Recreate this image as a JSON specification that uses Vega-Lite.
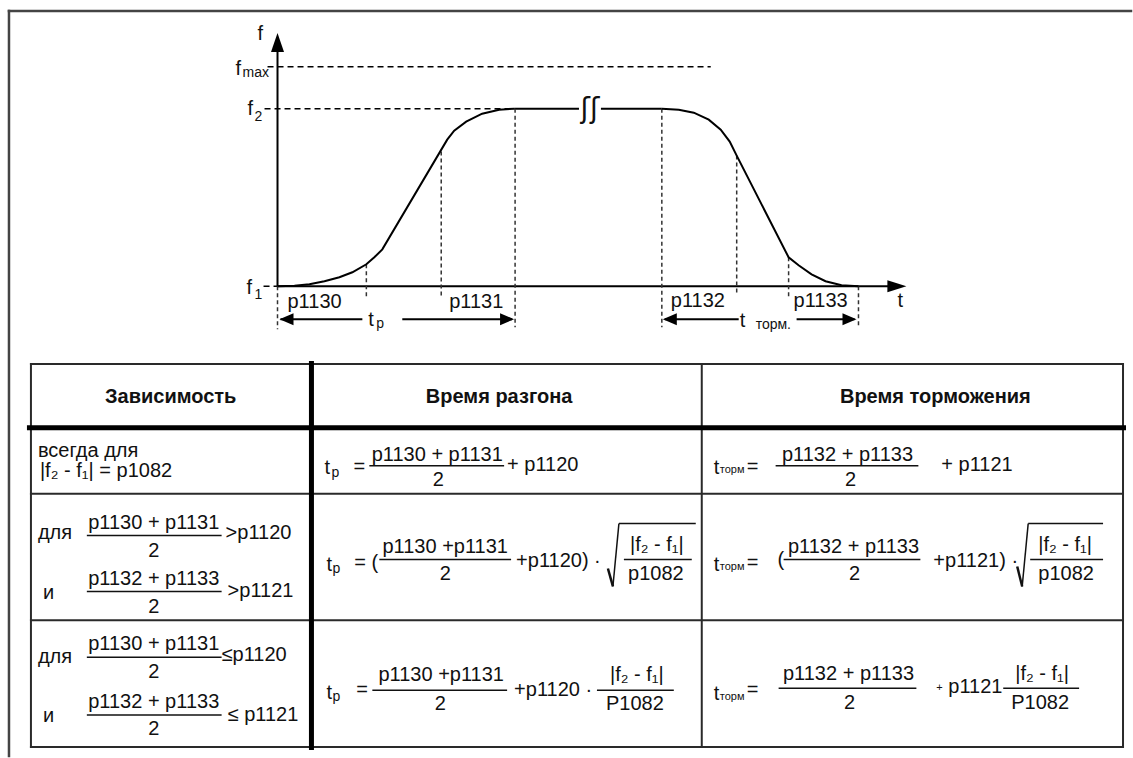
{
"$schema": "https://vega.github.io/schema/vega-lite/v6.json",
"width": 1133, "height": 758, "padding": 0,
"autosize": {"type": "fit", "contains": "padding"},
"background": "white",
"config": {"view": {"stroke": null}},
"datasets": {
"seg": [
{"k":"axis","x":278,"y":40,"x2":278,"y2":287},
{"k":"axis","x":278,"y":287,"x2":892,"y2":287},
{"k":"axis","x":515,"y":109,"x2":580,"y2":109},
{"k":"axis","x":602,"y":109,"x2":663,"y2":109},
{"k":"axis","x":281,"y":320,"x2":363,"y2":320},
{"k":"axis","x":403,"y":320,"x2":513,"y2":320},
{"k":"axis","x":666,"y":320,"x2":740,"y2":320},
{"k":"axis","x":798,"y":320,"x2":856,"y2":320},
{"k":"dashH","x":268,"y":67,"x2":712,"y2":67},
{"k":"dashH","x":265,"y":109,"x2":515,"y2":109},
{"k":"dashH","x":264,"y":287,"x2":278,"y2":287},
{"k":"dashV","x":278,"y":287,"x2":278,"y2":330},
{"k":"dashV","x":367,"y":265,"x2":367,"y2":298},
{"k":"dashV","x":442,"y":152,"x2":442,"y2":298},
{"k":"dashV","x":516,"y":109,"x2":516,"y2":328},
{"k":"dashV","x":663,"y":109,"x2":663,"y2":328},
{"k":"dashV","x":738,"y":156,"x2":738,"y2":296},
{"k":"dashV","x":790,"y":258,"x2":790,"y2":297},
{"k":"dashV","x":860,"y":287,"x2":860,"y2":328},
{"k":"frame","x":9,"y":11,"x2":1133,"y2":11},
{"k":"frame","x":9,"y":11,"x2":9,"y2":758},
{"k":"thin","x":31,"y":365,"x2":1125,"y2":365},
{"k":"thin","x":31,"y":365,"x2":31,"y2":749},
{"k":"thin","x":1125,"y":365,"x2":1125,"y2":749},
{"k":"thin","x":31,"y":749,"x2":1125,"y2":749},
{"k":"thin","x":703,"y":365,"x2":703,"y2":749},
{"k":"thin","x":31,"y":495,"x2":1125,"y2":495},
{"k":"thin","x":31,"y":622,"x2":1125,"y2":622},
{"k":"thick","x":27,"y":429,"x2":1128,"y2":429},
{"k":"thick","x":312,"y":362,"x2":312,"y2":752},
{"k":"frac","x":370,"y":467,"x2":505,"y2":467},
{"k":"frac","x":777,"y":467,"x2":920,"y2":467},
{"k":"frac","x":87,"y":537,"x2":222,"y2":537},
{"k":"frac","x":87,"y":593,"x2":222,"y2":593},
{"k":"frac","x":380,"y":561,"x2":512,"y2":561},
{"k":"frac","x":625,"y":561,"x2":693,"y2":561},
{"k":"frac","x":785,"y":561,"x2":922,"y2":561},
{"k":"frac","x":1032,"y":561,"x2":1105,"y2":561},
{"k":"frac","x":87,"y":659,"x2":222,"y2":659},
{"k":"frac","x":87,"y":717,"x2":222,"y2":717},
{"k":"frac","x":373,"y":692,"x2":508,"y2":692},
{"k":"frac","x":598,"y":692,"x2":675,"y2":692},
{"k":"frac","x":780,"y":690,"x2":918,"y2":690},
{"k":"frac","x":1005,"y":690,"x2":1081,"y2":690},
{"k":"frac","x":614,"y":588,"x2":620,"y2":525},
{"k":"frac","x":620,"y":525,"x2":697,"y2":525},
{"k":"frac","x":1024,"y":588,"x2":1030,"y2":525},
{"k":"frac","x":1030,"y":525,"x2":1105,"y2":525},
{"k":"sqrtA","x":609,"y":570,"x2":614,"y2":588},
{"k":"sqrtA","x":1019,"y":568,"x2":1024,"y2":588}
],
"curve": [
{"s":"a","x":278,"y":287},{"s":"a","x":295,"y":286.5},{"s":"a","x":310,"y":285},{"s":"a","x":325,"y":282},{"s":"a","x":340,"y":278},{"s":"a","x":353,"y":273},{"s":"a","x":367,"y":265},{"s":"a","x":375,"y":258},{"s":"a","x":383,"y":250},{"s":"a","x":448,"y":140},{"s":"a","x":455,"y":131},{"s":"a","x":467,"y":122},{"s":"a","x":483,"y":114},{"s":"a","x":500,"y":110},{"s":"a","x":515,"y":109},
{"s":"d","x":663,"y":109},{"s":"d","x":680,"y":110},{"s":"d","x":695,"y":113},{"s":"d","x":710,"y":120},{"s":"d","x":722,"y":130},{"s":"d","x":731,"y":142},{"s":"d","x":738,"y":156},{"s":"d","x":790,"y":258},{"s":"d","x":800,"y":266},{"s":"d","x":813,"y":275},{"s":"d","x":827,"y":282},{"s":"d","x":843,"y":286},{"s":"d","x":860,"y":287}
],
"arrow": [
{"d":"up","x":278,"y":33},
{"d":"rb","x":908,"y":287},
{"d":"l","x":280,"y":320},
{"d":"r","x":515,"y":320},
{"d":"l","x":664,"y":320},
{"d":"r","x":858,"y":320}
],
"txt": [
{"c":"lbl","t":"f","x":258,"y":34},
{"c":"lbl","t":"f","x":236,"y":69},
{"c":"lbl","t":"f","x":248,"y":109},
{"c":"lbl","t":"f","x":247,"y":289},
{"c":"lbl","t":"p1130","x":288,"y":303},
{"c":"lbl","t":"p1131","x":450,"y":303},
{"c":"lbl","t":"p1132","x":672,"y":302},
{"c":"lbl","t":"p1133","x":795,"y":302},
{"c":"lbl","t":"t","x":899,"y":302},
{"c":"lbl","t":"t","x":369,"y":321},
{"c":"lbl","t":"t","x":741,"y":322},
{"c":"sub","t":"max","x":243,"y":73},
{"c":"sub","t":"2","x":255,"y":117},
{"c":"sub","t":"1","x":255,"y":296},
{"c":"sub","t":"торм.","x":757,"y":326},
{"c":"sub","t":"р","x":377,"y":325},
{"c":"tl","t":"всегда для","x":38,"y":452},
{"c":"tl","t":"|f₂ - f₁| = p1082","x":40,"y":472},
{"c":"tl","t":"t","x":325,"y":469},
{"c":"tl","t":"=","x":354,"y":468},
{"c":"tl","t":"+ p1120","x":508,"y":466},
{"c":"tl","t":"t","x":715,"y":469},
{"c":"tl","t":"=","x":748,"y":468},
{"c":"tl","t":"+ p1121","x":943,"y":466},
{"c":"tl","t":"для","x":38,"y":534},
{"c":"tl","t":">p1120","x":226,"y":534},
{"c":"tl","t":"и","x":43,"y":595},
{"c":"tl","t":">p1121","x":228,"y":593},
{"c":"tl","t":"t","x":327,"y":566},
{"c":"tl","t":"= (","x":355,"y":564},
{"c":"tl","t":"+p1120) ·","x":517,"y":562},
{"c":"tl","t":"t","x":715,"y":566},
{"c":"tl","t":"=","x":748,"y":564},
{"c":"tl","t":"(","x":779,"y":561},
{"c":"tl","t":"+p1121) ·","x":935,"y":562},
{"c":"tl","t":"для","x":38,"y":659},
{"c":"tl","t":"≤p1120","x":222,"y":657},
{"c":"tl","t":"и","x":43,"y":718},
{"c":"tl","t":"≤ p1121","x":228,"y":717},
{"c":"tl","t":"t","x":327,"y":695},
{"c":"tl","t":"=","x":357,"y":692},
{"c":"tl","t":"+p1120 ·","x":515,"y":692},
{"c":"tl","t":"t","x":715,"y":696},
{"c":"tl","t":"=","x":748,"y":692},
{"c":"tl","t":"p1121","x":950,"y":689},
{"c":"tc","t":"p1130 + p1131","x":438,"y":456},
{"c":"tc","t":"2","x":439,"y":481},
{"c":"tc","t":"p1132 + p1133","x":849,"y":456},
{"c":"tc","t":"2","x":852,"y":481},
{"c":"tc","t":"p1130 + p1131","x":154,"y":524},
{"c":"tc","t":"2","x":154,"y":552},
{"c":"tc","t":"p1132 + p1133","x":154,"y":581},
{"c":"tc","t":"2","x":154,"y":609},
{"c":"tc","t":"p1130 +p1131","x":446,"y":548},
{"c":"tc","t":"2","x":446,"y":576},
{"c":"tc","t":"|f₂ - f₁|","x":658,"y":546},
{"c":"tc","t":"p1082","x":657,"y":576},
{"c":"tc","t":"p1132 + p1133","x":855,"y":548},
{"c":"tc","t":"2","x":856,"y":576},
{"c":"tc","t":"|f₂ - f₁|","x":1067,"y":546},
{"c":"tc","t":"p1082","x":1068,"y":576},
{"c":"tc","t":"p1130 + p1131","x":154,"y":646},
{"c":"tc","t":"2","x":154,"y":674},
{"c":"tc","t":"p1132 + p1133","x":154,"y":704},
{"c":"tc","t":"2","x":154,"y":731},
{"c":"tc","t":"p1130 +p1131","x":442,"y":677},
{"c":"tc","t":"2","x":441,"y":706},
{"c":"tc","t":"|f₂ - f₁|","x":638,"y":677},
{"c":"tc","t":"P1082","x":636,"y":706},
{"c":"tc","t":"p1132 + p1133","x":850,"y":676},
{"c":"tc","t":"2","x":851,"y":705},
{"c":"tc","t":"|f₂ - f₁|","x":1044,"y":676},
{"c":"tc","t":"P1082","x":1042,"y":705},
{"c":"hdr","t":"Зависимость","x":171,"y":398},
{"c":"hdr","t":"Время разгона","x":500,"y":398},
{"c":"hdr","t":"Время торможения","x":937,"y":398},
{"c":"ts14","t":"р","x":332,"y":474},
{"c":"ts14","t":"р","x":333,"y":571},
{"c":"ts14","t":"р","x":333,"y":699},
{"c":"ts12","t":"торм","x":721,"y":471},
{"c":"ts12","t":"торм","x":721,"y":569},
{"c":"ts12","t":"торм","x":721,"y":699},
{"c":"ts12","t":"+","x":938,"y":690},
{"c":"sq","t":"ʃʃ","x":591,"y":110}
]
},
"encoding": {
"x": {"field":"x","type":"quantitative","scale":{"domain":[0,1133],"nice":false,"zero":false},"axis":null},
"y": {"field":"y","type":"quantitative","scale":{"domain":[0,758],"reverse":true,"nice":false,"zero":false},"axis":null}
},
"layer": [
{"data":{"name":"seg"},"transform":[{"filter":"datum.k==='frame'"}],"mark":{"type":"rule","color":"#444","strokeWidth":2.5,"strokeCap":"square"},"encoding":{"x2":{"field":"x2"},"y2":{"field":"y2"}}},
{"data":{"name":"seg"},"transform":[{"filter":"datum.k==='thin'"}],"mark":{"type":"rule","color":"#2a2a2a","strokeWidth":2,"strokeCap":"square"},"encoding":{"x2":{"field":"x2"},"y2":{"field":"y2"}}},
{"data":{"name":"seg"},"transform":[{"filter":"datum.k==='thick'"}],"mark":{"type":"rule","color":"#000","strokeWidth":5},"encoding":{"x2":{"field":"x2"},"y2":{"field":"y2"}}},
{"data":{"name":"seg"},"transform":[{"filter":"datum.k==='axis'"}],"mark":{"type":"rule","color":"#000","strokeWidth":2},"encoding":{"x2":{"field":"x2"},"y2":{"field":"y2"}}},
{"data":{"name":"seg"},"transform":[{"filter":"datum.k==='dashH'"}],"mark":{"type":"rule","color":"#000","strokeWidth":1.5,"strokeDash":[6,4]},"encoding":{"x2":{"field":"x2"},"y2":{"field":"y2"}}},
{"data":{"name":"seg"},"transform":[{"filter":"datum.k==='dashV'"}],"mark":{"type":"rule","color":"#333","strokeWidth":1.5,"strokeDash":[4,3]},"encoding":{"x2":{"field":"x2"},"y2":{"field":"y2"}}},
{"data":{"name":"seg"},"transform":[{"filter":"datum.k==='frac'"}],"mark":{"type":"rule","color":"#111","strokeWidth":1.5},"encoding":{"x2":{"field":"x2"},"y2":{"field":"y2"}}},
{"data":{"name":"seg"},"transform":[{"filter":"datum.k==='sqrtA'"}],"mark":{"type":"rule","color":"#111","strokeWidth":2.5},"encoding":{"x2":{"field":"x2"},"y2":{"field":"y2"}}},
{"data":{"name":"curve"},"mark":{"type":"line","color":"#000","strokeWidth":2},"encoding":{"detail":{"field":"s"}}},
{"data":{"name":"arrow"},"mark":{"type":"point","filled":true,"opacity":1,"color":"#000","size":100},
 "encoding":{"shape":{"field":"d","type":"nominal","legend":null,"scale":{"domain":["up","rb","l","r"],"range":["M0,0L-1.3,3.8L1.3,3.8Z","M0,0L-3.8,-1.2L-3.8,1.2Z","M0,0L2.8,-1.2L2.8,1.2Z","M0,0L-2.8,-1.2L-2.8,1.2Z"]}}}},
{"data":{"name":"txt"},"transform":[{"filter":"datum.c==='lbl'"}],"mark":{"type":"text","align":"left","baseline":"middle","font":"Liberation Sans","fontSize":20,"color":"#111"},"encoding":{"text":{"field":"t"}}},
{"data":{"name":"txt"},"transform":[{"filter":"datum.c==='sub'"}],"mark":{"type":"text","align":"left","baseline":"middle","font":"Liberation Sans","fontSize":14,"color":"#111"},"encoding":{"text":{"field":"t"}}},
{"data":{"name":"txt"},"transform":[{"filter":"datum.c==='tl'"}],"mark":{"type":"text","align":"left","baseline":"middle","font":"Liberation Sans","fontSize":20,"color":"#111"},"encoding":{"text":{"field":"t"}}},
{"data":{"name":"txt"},"transform":[{"filter":"datum.c==='tc'"}],"mark":{"type":"text","align":"center","baseline":"middle","font":"Liberation Sans","fontSize":20,"color":"#111"},"encoding":{"text":{"field":"t"}}},
{"data":{"name":"txt"},"transform":[{"filter":"datum.c==='hdr'"}],"mark":{"type":"text","align":"center","baseline":"middle","font":"Liberation Sans","fontSize":20,"fontWeight":"bold","color":"#111"},"encoding":{"text":{"field":"t"}}},
{"data":{"name":"txt"},"transform":[{"filter":"datum.c==='ts14'"}],"mark":{"type":"text","align":"left","baseline":"middle","font":"Liberation Sans","fontSize":14,"color":"#111"},"encoding":{"text":{"field":"t"}}},
{"data":{"name":"txt"},"transform":[{"filter":"datum.c==='ts12'"}],"mark":{"type":"text","align":"left","baseline":"middle","font":"Liberation Sans","fontSize":11,"color":"#111"},"encoding":{"text":{"field":"t"}}},
{"data":{"name":"txt"},"transform":[{"filter":"datum.c==='sq'"}],"mark":{"type":"text","align":"center","baseline":"middle","font":"DejaVu Sans","fontSize":28,"color":"#111"},"encoding":{"text":{"field":"t"}}}
]
}
